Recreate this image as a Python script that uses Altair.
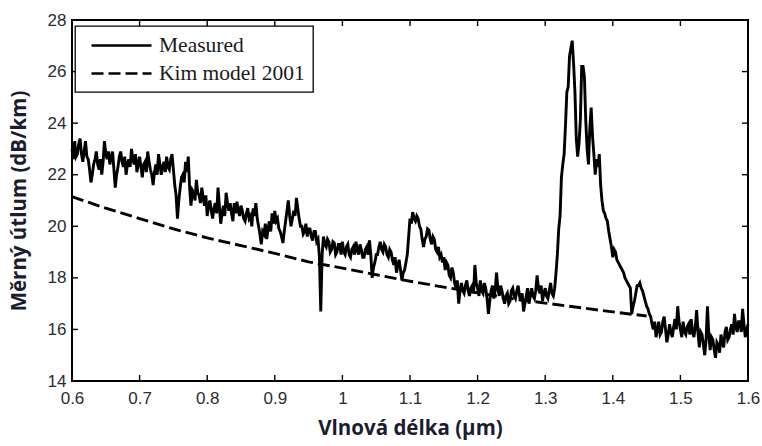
import altair as alt
import numpy as np
import pandas as pd

# Measured specific attenuation, sampled every 2 nm from 0.6 to 1.6 um
wl_start = 0.6
wl_step = 0.002
measured_db = [
    # 0.600 - 0.698
    23.0, 22.6, 23.3, 22.7, 22.8, 23.2, 23.4, 22.8, 22.5, 22.9,
    23.3, 22.7, 22.6, 22.2, 21.7, 22.0, 22.4, 22.6, 22.9, 22.4,
    22.2, 22.6, 22.0, 22.5, 23.3, 22.8, 22.6, 22.9, 22.4, 22.7,
    22.9, 22.2, 21.5, 22.0, 22.3, 22.7, 22.9, 22.5, 22.3, 22.7,
    22.0, 22.4, 22.6, 22.3, 23.0, 22.6, 22.4, 22.8, 22.1, 22.4,
    # 0.700 - 0.798
    22.7, 22.3, 21.9, 22.4, 22.5, 22.1, 22.9, 22.5, 22.2, 22.0,
    21.6, 22.1, 22.4, 22.0, 22.8, 22.4, 22.0, 22.3, 22.5, 22.1,
    22.7, 22.3, 22.2, 22.6, 22.8, 22.2, 21.6, 21.2, 20.3, 21.0,
    21.5, 21.9, 22.0, 21.7, 22.5, 22.1, 22.7, 21.5, 20.8, 21.4,
    21.3, 21.0, 21.8, 21.3, 21.2, 20.9, 21.5, 21.1, 20.8, 21.2,
    # 0.800 - 0.898
    20.4, 20.8, 21.0, 20.6, 20.3, 20.7, 20.9, 20.5, 21.5, 20.8,
    20.1, 20.5, 20.8, 20.4, 21.3, 20.9, 20.6, 20.9, 20.5, 20.2,
    20.9, 20.5, 20.95, 20.6, 20.4, 20.8, 20.6, 20.3, 20.2, 20.5,
    20.7, 20.3, 20.4, 20.0, 20.7, 20.4, 20.9, 20.3, 20.0, 19.7,
    19.3, 19.8, 19.7, 20.1, 19.5, 19.9, 20.2, 19.8, 20.5, 20.1,
    # 0.900 - 0.998
    20.6, 20.2, 20.3, 19.9, 19.8, 19.6, 19.35, 19.8, 20.2, 20.6,
    21.0, 20.4, 20.0, 20.3, 20.6, 20.4, 21.1, 20.7, 20.3, 20.0,
    20.0, 19.7, 19.8, 20.1, 19.6, 19.9, 19.9, 19.6, 19.45, 19.8,
    19.8, 19.4, 19.5, 18.8, 16.7, 18.9, 19.6, 19.3, 19.2, 19.5,
    19.4, 19.0, 19.1, 19.4, 19.35, 18.9, 19.0, 19.3, 19.3, 18.9,
    # 1.000 - 1.098
    19.4, 19.0, 18.9, 19.2, 19.3, 18.9, 18.8, 19.1, 19.2, 18.9,
    19.4, 19.1, 18.9, 19.3, 19.1, 18.8, 18.8, 19.1, 19.2, 18.9,
    19.45, 18.9, 18.0, 18.4, 18.6, 18.9, 18.9, 19.2, 19.4, 19.1,
    19.0, 19.3, 19.2, 18.9, 18.8, 19.1, 19.0, 18.7, 18.5, 18.8,
    18.2, 18.5, 18.7, 18.3, 17.9, 18.2, 18.3, 18.6, 18.9, 19.6,
    # 1.100 - 1.198
    20.3, 20.1, 20.55, 20.3, 20.2, 20.4, 20.3, 20.0, 19.9, 19.5,
    19.2, 19.5, 19.6, 19.9, 19.85, 19.5, 19.3, 19.6, 19.5, 19.1,
    19.0, 19.2, 18.8, 18.9, 18.6, 18.8, 18.3, 18.6, 18.5, 18.1,
    18.0, 18.4, 18.2, 17.8, 17.6, 17.9, 17.0, 17.5, 17.8, 17.5,
    17.4, 17.7, 17.9, 17.5, 17.3, 17.6, 17.7, 17.4, 18.5, 17.8,
    # 1.200 - 1.298
    17.6, 17.3, 17.9, 17.5, 17.4, 17.8, 17.6, 17.2, 16.6, 17.1,
    17.5, 17.7, 17.2, 17.5, 18.2, 17.6, 17.3, 17.7, 17.5, 17.2,
    17.0, 17.3, 17.4, 17.0, 17.1, 17.5, 17.6, 17.3, 17.2, 17.5,
    17.7, 17.3, 17.1, 17.4, 16.7, 17.0, 17.3, 17.6, 17.0, 17.3,
    17.6, 17.3, 17.2, 17.5, 18.1, 17.6, 17.4, 17.7, 17.1, 17.4,
    # 1.300 - 1.398
    17.6, 17.3, 17.2, 17.5, 17.8, 17.4, 17.3, 17.6, 18.2, 18.9,
    19.9, 20.4, 21.9, 22.4, 22.8, 23.9, 25.2, 25.4, 26.6, 26.9,
    27.2, 26.3, 25.2, 23.4, 22.7, 23.2, 24.1, 26.2, 26.2, 25.8,
    24.1, 23.0, 22.4, 23.8, 24.6, 23.5, 22.8, 22.0, 22.6, 22.3,
    22.8, 21.6, 21.0, 20.6, 20.5, 20.3, 20.2, 19.8, 19.5, 19.2,
    # 1.400 - 1.498
    18.8, 19.1, 19.0, 18.7, 18.6, 18.5, 18.4, 18.3, 18.2, 18.0,
    17.9, 17.8, 17.7, 17.6, 16.6, 16.9, 17.1, 17.4, 17.7, 17.7,
    17.8, 17.6, 17.5, 17.3, 17.1, 16.9, 16.8, 16.6, 16.5, 16.2,
    16.0, 16.3, 15.7, 16.0, 16.3, 15.8, 15.9, 16.3, 16.5, 16.0,
    15.5, 15.8, 16.2, 15.9, 15.7, 16.1, 16.4, 16.0, 16.9, 16.3,
    # 1.500 - 1.600
    16.0, 15.7, 16.3, 15.9, 15.8, 16.1, 16.2, 15.8, 16.4, 15.9,
    15.7, 16.1, 16.75, 15.9, 15.3, 15.9, 15.8, 15.4, 15.0, 15.6,
    16.9, 15.8, 15.2, 15.7, 15.6, 15.2, 14.9, 15.5, 15.4, 15.1,
    15.8, 15.5, 15.3, 15.9, 16.1, 15.6, 15.7, 16.0, 16.2, 15.8,
    16.6, 16.1, 15.9, 16.3, 16.3, 15.9, 16.8, 16.2, 15.7, 16.0,
    16.2,
]
measured_wl = np.round(wl_start + wl_step * np.arange(len(measured_db)), 4)

# Kim model (2001)
model_wl = [0.60, 0.65, 0.70, 0.75, 0.80, 0.85, 0.90, 0.95, 1.00,
            1.05, 1.10, 1.15, 1.20, 1.25, 1.30, 1.35, 1.40, 1.45]
model_db = [21.15, 20.7, 20.3, 19.9, 19.55, 19.25, 18.95, 18.62, 18.38,
            18.12, 17.87, 17.64, 17.42, 17.2, 17.02, 16.85, 16.68, 16.52]

series_names = ["Measured", "Kim model 2001"]
x_ticks = [0.6, 0.7, 0.8, 0.9, 1.0, 1.1, 1.2, 1.3, 1.4, 1.5, 1.6]
y_ticks = [14, 16, 18, 20, 22, 24, 26, 28]
x_range = [0.6, 1.6]
y_range = [14, 28]

W, H = 676, 361
TICK = 6  # length of the inward tick marks on the frame

df = pd.concat([
    pd.DataFrame({"wl": measured_wl, "db": measured_db, "series": series_names[0]}),
    pd.DataFrame({"wl": model_wl, "db": model_db, "series": series_names[1]}),
], ignore_index=True)

xscale = alt.Scale(domain=x_range, nice=False, zero=False)
yscale = alt.Scale(domain=y_range, nice=False, zero=False)

tick_color = "#2b2b33"
title_color = "#1c1c30"
axis_style = dict(ticks=False, domain=False, grid=False, labelFlush=False,
                  labelFont="Liberation Sans", labelFontSize=17,
                  labelColor=tick_color, titleFont="Open Sans",
                  titleFontSize=20.5, titleFontWeight="bold",
                  titleColor=title_color)

# one axis definition per channel, shared by every layer
x_axis = alt.Axis(orient="bottom", values=x_ticks, format="~g", labelPadding=9,
                  title="Vlnová délka (µm)", titlePadding=12, **axis_style)
y_axis = alt.Axis(orient="left", values=y_ticks, labelPadding=6,
                  title="Měrný útlum (dB/km)", titlePadding=18, **axis_style)

main = alt.Chart(df).mark_line(color="black", strokeWidth=2.9).encode(
    x=alt.X("wl:Q", scale=xscale, axis=x_axis),
    y=alt.Y("db:Q", scale=yscale, axis=y_axis),
    strokeDash=alt.StrokeDash("series:N", scale=alt.Scale(
        domain=series_names, range=[[1, 0], [12, 5]]),
        legend=alt.Legend(
            title=None, orient="none", legendX=3, legendY=6,
            symbolType="M-3,0H3", symbolSize=400, symbolStrokeWidth=2.7,
            symbolStrokeColor="black", symbolOffset=27,
            labelFont="Liberation Serif", labelFontSize=21.5,
            labelColor="#1a1a1a", labelOffset=26,
            padding=8, rowPadding=6, strokeColor="black")),
    order=alt.Order("wl:Q"),
)

# Inward tick marks on the four frame edges: each tick sits on an edge value
# of the other axis and is nudged half its length into the plot
xt_bottom = pd.DataFrame({"t": x_ticks, "edge": y_range[0]})
xt_top = pd.DataFrame({"t": x_ticks, "edge": y_range[1]})
yt_left = pd.DataFrame({"t": y_ticks, "edge": x_range[0]})
yt_right = pd.DataFrame({"t": y_ticks, "edge": x_range[1]})
half = TICK / 2


def vticks(data, shift):
    return alt.Chart(data).mark_tick(
        orient="vertical", size=TICK, thickness=1.4, color="black",
        opacity=1, yOffset=shift,
    ).encode(x=alt.X("t:Q", scale=xscale, axis=x_axis),
             y=alt.Y("edge:Q", scale=yscale, axis=y_axis))


def hticks(data, shift):
    return alt.Chart(data).mark_tick(
        orient="horizontal", size=TICK, thickness=1.4, color="black",
        opacity=1, xOffset=shift,
    ).encode(x=alt.X("edge:Q", scale=xscale, axis=x_axis),
             y=alt.Y("t:Q", scale=yscale, axis=y_axis))


chart = alt.layer(
    main,
    vticks(xt_bottom, -half), vticks(xt_top, half),
    hticks(yt_left, half), hticks(yt_right, -half),
).properties(
    width=W, height=H,
    autosize=alt.AutoSizeParams(type="none"),
    padding={"left": 72, "top": 20, "right": 14, "bottom": 65},
    background="white",
).configure_view(stroke="black", strokeWidth=2).configure_legend(
    strokeWidth=1.3, fillColor="white"
)

chart.save("out.html", embed_options={"renderer": "svg", "actions": False})
